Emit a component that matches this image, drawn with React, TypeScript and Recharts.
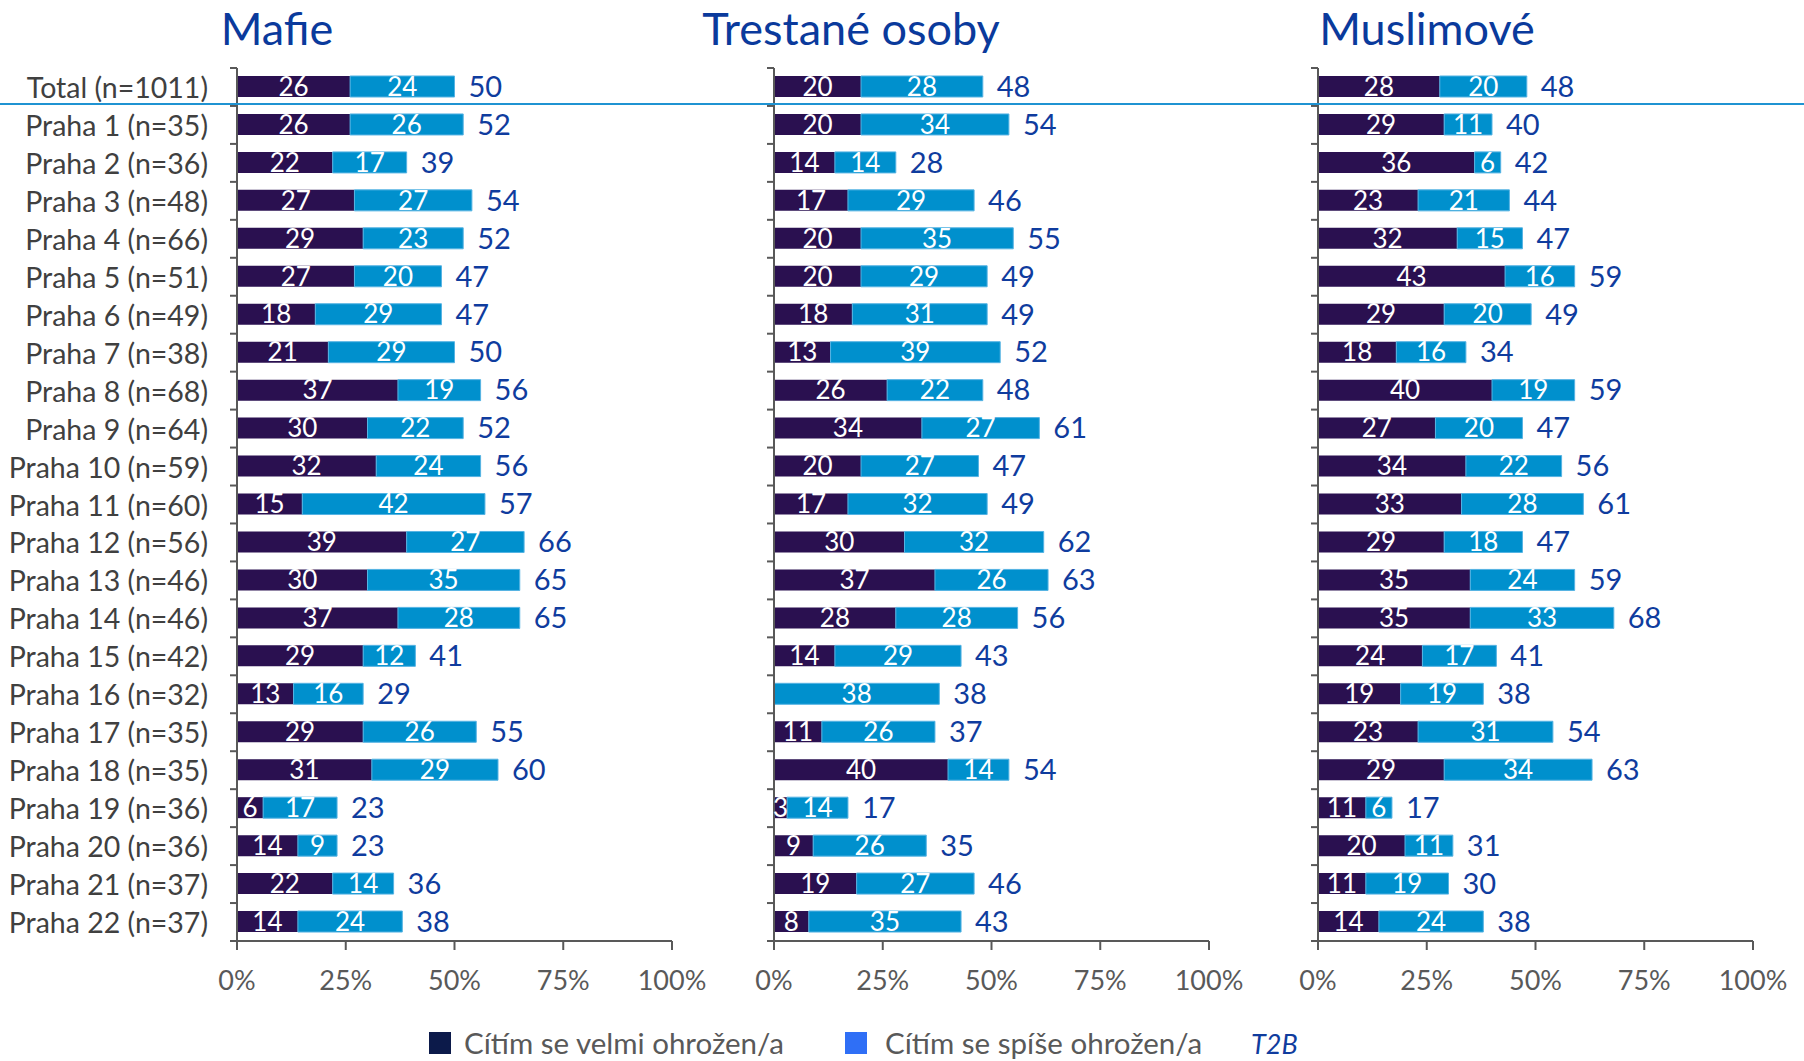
import React from 'react';
import { BarChart, Bar, XAxis, YAxis, LabelList } from 'recharts';

// ---------- DATA ----------
const categories = [
  'Total (n=1011)', 'Praha 1 (n=35)', 'Praha 2 (n=36)', 'Praha 3 (n=48)', 'Praha 4 (n=66)',
  'Praha 5 (n=51)', 'Praha 6 (n=49)', 'Praha 7 (n=38)', 'Praha 8 (n=68)', 'Praha 9 (n=64)',
  'Praha 10 (n=59)', 'Praha 11 (n=60)', 'Praha 12 (n=56)', 'Praha 13 (n=46)', 'Praha 14 (n=46)',
  'Praha 15 (n=42)', 'Praha 16 (n=32)', 'Praha 17 (n=35)', 'Praha 18 (n=35)', 'Praha 19 (n=36)',
  'Praha 20 (n=36)', 'Praha 21 (n=37)', 'Praha 22 (n=37)',
];

const panelTitles = ['Mafie', 'Trestané osoby', 'Muslimové'];
const seriesNames = ['Cítím se velmi ohrožen/a', 'Cítím se spíše ohrožen/a'];
const totalName = 'T2B';
const xTicks = [0, 25, 50, 75, 100];

const mafieVelmi = [26, 26, 22, 27, 29, 27, 18, 21, 37, 30, 32, 15, 39, 30, 37, 29, 13, 29, 31, 6, 14, 22, 14];
const mafieSpise = [24, 26, 17, 27, 23, 20, 29, 29, 19, 22, 24, 42, 27, 35, 28, 12, 16, 26, 29, 17, 9, 14, 24];
const mafieT2B = [50, 52, 39, 54, 52, 47, 47, 50, 56, 52, 56, 57, 66, 65, 65, 41, 29, 55, 60, 23, 23, 36, 38];

const trestaneVelmi = [20, 20, 14, 17, 20, 20, 18, 13, 26, 34, 20, 17, 30, 37, 28, 14, 0, 11, 40, 3, 9, 19, 8];
const trestaneSpise = [28, 34, 14, 29, 35, 29, 31, 39, 22, 27, 27, 32, 32, 26, 28, 29, 38, 26, 14, 14, 26, 27, 35];
const trestaneT2B = [48, 54, 28, 46, 55, 49, 49, 52, 48, 61, 47, 49, 62, 63, 56, 43, 38, 37, 54, 17, 35, 46, 43];

const muslimoveVelmi = [28, 29, 36, 23, 32, 43, 29, 18, 40, 27, 34, 33, 29, 35, 35, 24, 19, 23, 29, 11, 20, 11, 14];
const muslimoveSpise = [20, 11, 6, 21, 15, 16, 20, 16, 19, 20, 22, 28, 18, 24, 33, 17, 19, 31, 34, 6, 11, 19, 24];
const muslimoveT2B = [48, 40, 42, 44, 47, 59, 49, 34, 59, 47, 56, 61, 47, 59, 68, 41, 38, 54, 63, 17, 31, 30, 38];

const build = (velmi: number[], spise: number[], t2b: number[]) =>
  categories.map((name, i) => ({ name, velmi: velmi[i], spise: spise[i], t2b: t2b[i] }));

const panels = [
  build(mafieVelmi, mafieSpise, mafieT2B),
  build(trestaneVelmi, trestaneSpise, trestaneT2B),
  build(muslimoveVelmi, muslimoveSpise, muslimoveT2B),
];

// ---------- STYLE ----------
const W = 1804;
const H = 1061;
const PLOT_TOP = 68;
const PLOT_BOTTOM = 941;
const PLOT_W = 435;
const RIGHT = 48;
const BAND = (PLOT_BOTTOM - PLOT_TOP) / categories.length;
const DARK = '#2a1050';
const LIGHT = '#0090cd';
const AXIS = '#595959';
const LABEL_GRAY = '#404040';
const VALUE_BLUE = '#0f3c9e';
const TITLE_BLUE = '#0a3a9c';
const FONT = 'Lato, "Open Sans", sans-serif';

const panelLayout = [
  { left: 0, yWidth: 237, showLabels: true, titleX: 277 },
  { left: 754, yWidth: 20, showLabels: false, titleX: 851 },
  { left: 1298, yWidth: 20, showLabels: false, titleX: 1427 },
];

const XTick = (props: any) => {
  const { x, y, payload } = props;
  return (
    <text x={x} y={y + 29} textAnchor="middle" dominantBaseline="central" fontSize={27} fill={AXIS} fontFamily={FONT}>
      {payload.value + '%'}
    </text>
  );
};

const makeYTick = (showLabels: boolean, count: number) => (props: any) => {
  const { x, y, payload, index } = props;
  return (
    <g>
      <line x1={x - 7} x2={x} y1={y - BAND / 2} y2={y - BAND / 2} stroke={AXIS} strokeWidth={2} />
      {index === count - 1 && (
        <line x1={x - 7} x2={x} y1={y + BAND / 2} y2={y + BAND / 2} stroke={AXIS} strokeWidth={2} />
      )}
      {showLabels && (
        <text x={x - 29} y={y} textAnchor="end" dominantBaseline="central" fontSize={28.5} fill={LABEL_GRAY} fontFamily={FONT}>
          {payload.value}
        </text>
      )}
    </g>
  );
};

function Panel({ data, left, yWidth, showLabels }: any) {
  const width = yWidth + PLOT_W + RIGHT;
  return (
    <div style={{ position: 'absolute', left, top: 0 }}>
      <BarChart
        width={width}
        height={H}
        data={data}
        layout="vertical"
        margin={{ top: PLOT_TOP, right: RIGHT, bottom: 0, left: 0 }}
      >
        <XAxis
          type="number"
          domain={[0, 100]}
          ticks={xTicks}
          interval={0}
          height={H - PLOT_BOTTOM}
          axisLine={{ stroke: AXIS, strokeWidth: 2 }}
          tickLine={{ stroke: AXIS, strokeWidth: 2 }}
          tickSize={9}
          tickMargin={0}
          tick={<XTick />}
        />
        <YAxis
          type="category"
          dataKey="name"
          width={yWidth}
          interval={0}
          axisLine={{ stroke: AXIS, strokeWidth: 2 }}
          tickLine={false}
          tickSize={0}
          tickMargin={0}
          tick={makeYTick(showLabels, data.length)}
        />
        <Bar dataKey="velmi" stackId="s" fill={DARK} barSize={21} isAnimationActive={false}>
          <LabelList dataKey="velmi" position="center" fill="#ffffff" fontSize={26} fontFamily={FONT} />
        </Bar>
        <Bar dataKey="spise" stackId="s" fill={LIGHT} stroke="#55b3e3" strokeWidth={1} barSize={21} isAnimationActive={false}>
          <LabelList dataKey="spise" position="center" fill="#ffffff" stroke="none" fontSize={26} fontFamily={FONT} />
          <LabelList dataKey="t2b" position="right" offset={14} fill={VALUE_BLUE} stroke="none" fontSize={29} fontFamily={FONT} />
        </Bar>
      </BarChart>
    </div>
  );
}

export default function App() {
  return (
    <div style={{ position: 'absolute', left: 0, top: 0, width: W, height: H, background: '#ffffff', fontFamily: FONT, overflow: 'hidden' }}>
      {panels.map((data, i) => (
        <Panel key={i} data={data} {...panelLayout[i]} />
      ))}
      <svg width={W} height={H} style={{ position: 'absolute', left: 0, top: 0, pointerEvents: 'none' }}>
        {panelTitles.map((t, i) => (
          <text key={t} x={panelLayout[i].titleX} y={45} textAnchor="middle" fontSize={45} fill={TITLE_BLUE} fontFamily={FONT}>
            {t}
          </text>
        ))}
        <line x1={0} x2={W} y1={104} y2={104} stroke="#1f93d2" strokeWidth={2} />
        <rect x={429} y={1032} width={22} height={22} fill="#0c1a4a" />
        <text x={464} y={1054} fontSize={29.5} fill="#595959" fontFamily={FONT}>{seriesNames[0]}</text>
        <rect x={845} y={1032} width={22} height={22} fill="#2f6ff6" />
        <text x={885} y={1054} fontSize={29.5} fill="#595959" fontFamily={FONT}>{seriesNames[1]}</text>
        <text x={1251} y={1054} fontSize={27} fontStyle="italic" fill={VALUE_BLUE} fontFamily={FONT}>{totalName}</text>
      </svg>
    </div>
  );
}
